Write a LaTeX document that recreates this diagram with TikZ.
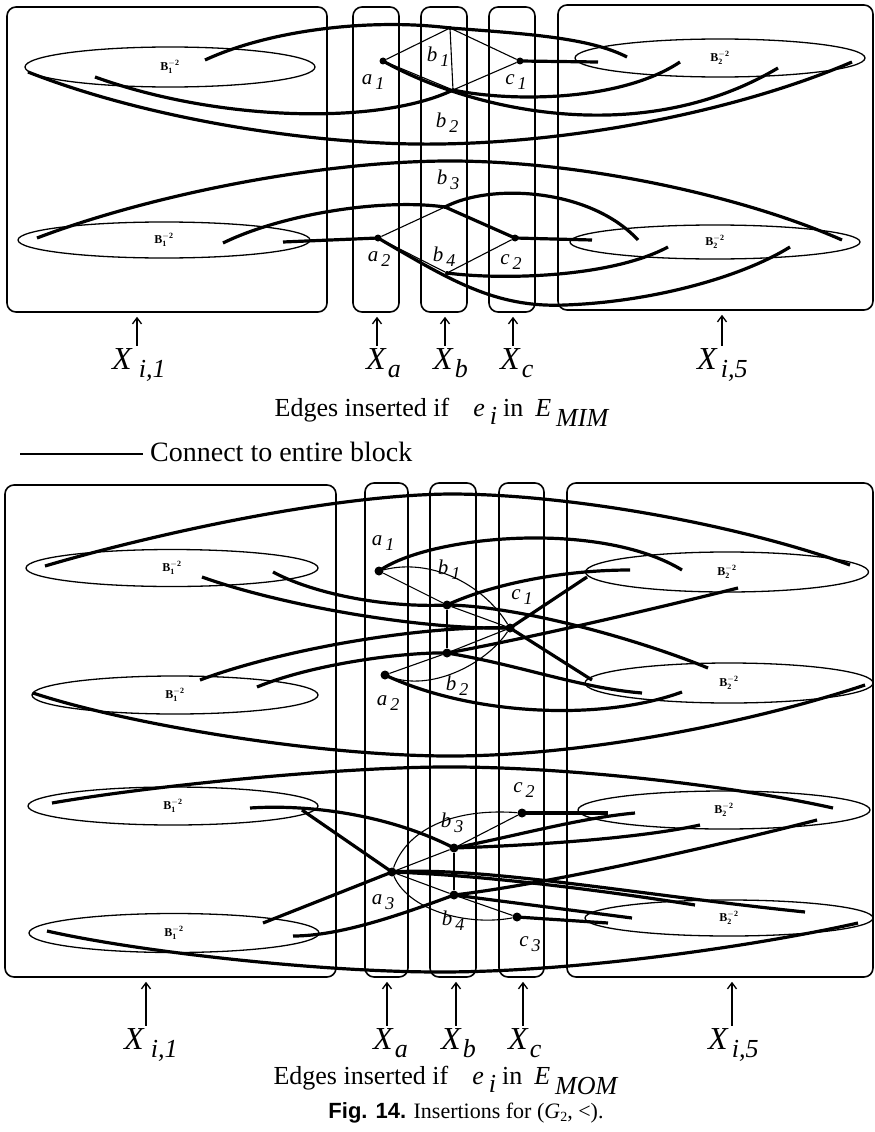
\documentclass[tikz,border=0pt]{standalone}
\usepackage{fontspec}
\setmainfont{Liberation Serif}
\newfontfamily\figfont{Liberation Sans}
\usetikzlibrary{arrows.meta,calc,shapes.geometric}

\newcommand{\nlab}[2]{\textit{#1}\hspace{3pt}\raisebox{-5pt}{\fontsize{18}{20}\selectfont\textit{#2}}}
\newcommand{\xlab}[2]{\textit{X}\hspace{#2}\raisebox{-8pt}{\fontsize{26}{28}\selectfont\textit{#1}}}
\newcommand{\blab}[1]{$\mathbf{B}_{\mathbf{#1}}^{\mathbf{-2}}$}

\tikzset{
  blockbox/.style={draw, rounded corners=9pt, line width=1.6pt, inner sep=0pt},
  blob/.style={draw, ellipse, line width=1.3pt, inner sep=0pt, font=\fontsize{12}{13}\selectfont},
  vtx/.style={circle, fill, inner sep=0pt, minimum size=7pt},
  jn/.style={circle, fill, inner sep=0pt, minimum size=4pt},
  conn/.style={line width=3.2pt},
  thinline/.style={line width=1.1pt},
  lbl/.style={font=\fontsize{21}{23}\selectfont, inner sep=1pt},
  xtxt/.style={font=\fontsize{32}{36}\selectfont, inner sep=0pt, anchor=base west},
  capt/.style={font=\fontsize{26}{30}\selectfont, inner sep=0pt},
  uparr/.style={-{Straight Barb[length=6pt,width=9pt]}, line width=1.3pt, shorten >=4pt, shorten <=2pt}
}

\begin{document}
\begin{tikzpicture}[x=1pt,y=-1pt]
\useasboundingbox (0,0) rectangle (875,1132);

% ===== upper figure (E_MIM) =====
% blocks
\node[blockbox, minimum width=320pt, minimum height=305pt] (L1)  at (167,159.5) {};
\node[blockbox, minimum width=46pt,  minimum height=305pt] (Xa1) at (376,159.5) {};
\node[blockbox, minimum width=46pt,  minimum height=305pt] (Xb1) at (444,159.5) {};
\node[blockbox, minimum width=46pt,  minimum height=305pt] (Xc1) at (512,159.5) {};
\node[blockbox, minimum width=315pt, minimum height=305pt] (R1)  at (715.5,157.5) {};

% B blocks
\node[blob, minimum width=290pt, minimum height=40pt] (tB1a) at (170,67) {\blab{1}};
\node[blob, minimum width=292pt, minimum height=36pt] (tB1b) at (164,240) {\blab{1}};
\node[blob, minimum width=290pt, minimum height=38pt] (tB2a) at (720,58) {\blab{2}};
\node[blob, minimum width=290pt, minimum height=34pt] (tB2b) at (715,242) {\blab{2}};

% vertices
\node[vtx] (ma1) at (383,61) {};
\node[jn]  (mb1) at (450,28) {};
\node[vtx] (mc1) at (520,61) {};
\node[jn]  (mb2) at (453,90) {};
\node[vtx] (ma2) at (378,238) {};
\node[jn]  (mb3) at (445,207) {};
\node[vtx] (mc2) at (515,238) {};
\node[jn]  (mb4) at (447,273) {};

% thin edges
\draw[thinline] (ma1) -- (mb1) -- (mc1) -- (mb2) -- (ma1);
\draw[thinline] (mb1) -- (mb2);
\draw[thinline] (ma2) -- (mb3) -- (mc2) -- (mb4) -- (ma2);

% edges to entire blocks
\draw[conn] ($(tB1a)+(35,-7)$) .. controls (270,30) and (370,18) .. (mb1.center) .. controls (530,34) and (590,38) .. ($(tB2a)+(-93,-1)$);
\draw[conn] ($(tB1a)+(-75,10)$) .. controls (220,122) and (380,125) .. (mb2.center);
\draw[conn] (mb2.center) .. controls (510,102) and (620,102) .. ($(tB2a)+(-40,4)$);
\draw[conn] (ma1.center) .. controls (470,110) and (640,150) .. ($(tB2a)+(58,10)$);
\draw[conn] ($(tB1a)+(-142,5)$) .. controls (150,120) and (320,146) .. (440,144) .. controls (580,142) and (740,110) .. ($(tB2a)+(132,4)$);
\draw[conn] (mc1.center) -- ($(tB2a)+(-122,4)$);
\draw[conn] ($(tB1b)+(-127,-2)$) .. controls (150,195) and (320,161) .. (450,161) .. controls (580,161) and (740,195) .. ($(tB2b)+(127,-2)$);
\draw[conn] ($(tB1b)+(59,3)$) .. controls (280,215) and (380,198) .. (mb3.center) -- (mc2.center);
\draw[conn] (mb3.center) .. controls (490,183) and (590,188) .. ($(tB2b)+(-77,-2)$);
\draw[conn] ($(tB1b)+(119,2)$) -- (ma2.center);
\draw[conn] (ma2.center) .. controls (450,280) and (495,308) .. (565,305) .. controls (650,302) and (740,278) .. ($(tB2b)+(75,5)$);
\draw[conn] (mb4.center) .. controls (500,280) and (610,278) .. ($(tB2b)+(-47,5)$);
\draw[conn] (mc2.center) -- ($(tB2b)+(-123,-2)$);

% vertex labels
\node[lbl] (la1) at (373,82)  {\nlab{a}{1}};
\node[lbl] (lb1) at (438,57)  {\nlab{b}{1}};
\node[lbl] (lc1) at (516,82)  {\nlab{c}{1}};
\node[lbl] (lb2) at (447,123) {\nlab{b}{2}};
\node[lbl] (lb3) at (448,180) {\nlab{b}{3}};
\node[lbl] (la2) at (379,259) {\nlab{a}{2}};
\node[lbl] (lb4) at (444,257) {\nlab{b}{4}};
\node[lbl] (lc2) at (511,262) {\nlab{c}{2}};

% block names
\node[xtxt] (xt1) at (112,369) {\xlab{i,1}{6pt}};
\node[xtxt] (xt2) at (366,369) {\xlab{a}{1pt}};
\node[xtxt] (xt3) at (433,369) {\xlab{b}{1pt}};
\node[xtxt] (xt4) at (500,369) {\xlab{c}{1pt}};
\node[xtxt] (xt5) at (697,369) {\xlab{i,5}{3pt}};
\draw[uparr] ([xshift=25pt]xt1.north west) -- ([xshift=25pt]xt1.north west |- L1.south);
\draw[uparr] ([xshift=11pt]xt2.north west) -- ([xshift=11pt]xt2.north west |- Xa1.south);
\draw[uparr] ([xshift=12pt]xt3.north west) -- ([xshift=12pt]xt3.north west |- Xb1.south);
\draw[uparr] ([xshift=13pt]xt4.north west) -- ([xshift=13pt]xt4.north west |- Xc1.south);
\draw[uparr] ([xshift=25pt]xt5.north west) -- ([xshift=25pt]xt5.north west |- R1.south);

\node[capt] (em1) at (442,412) {Edges inserted if\hspace{24pt}\textit{e}\hspace{5pt}\raisebox{-8pt}{\textit{i}}\hspace{6pt}in\hspace{12pt}\textit{E}\hspace{5pt}\raisebox{-10pt}{\textit{MIM}}};

% legend
\node[capt, anchor=west, font=\fontsize{28}{32}\selectfont] (ctb) at (150,452) {Connect to entire block};
\draw[line width=2.6pt] ([xshift=-130pt,yshift=-2pt]ctb.west) -- ([xshift=-7pt,yshift=-2pt]ctb.west);

% ===== lower figure (E_MOM) =====
% blocks
\node[blockbox, minimum width=331pt, minimum height=492pt] (L2)  at (170.5,731) {};
\node[blockbox, minimum width=43pt,  minimum height=494pt] (Xa2) at (386.5,730) {};
\node[blockbox, minimum width=46pt,  minimum height=494pt] (Xb2) at (453,730) {};
\node[blockbox, minimum width=45pt,  minimum height=494pt] (Xc2) at (521.5,730) {};
\node[blockbox, minimum width=306pt, minimum height=494pt] (R2)  at (720,730) {};

% B blocks
\node[blob, minimum width=292pt, minimum height=37pt] (bB1a) at (172,568) {\blab{1}};
\node[blob, minimum width=286pt, minimum height=38pt] (bB1b) at (175,695) {\blab{1}};
\node[blob, minimum width=290pt, minimum height=38pt] (bB1c) at (173,806) {\blab{1}};
\node[blob, minimum width=290pt, minimum height=39pt] (bB1d) at (174,933) {\blab{1}};
\node[blob, minimum width=283pt, minimum height=40pt] (bB2a) at (727,572) {\blab{2}};
\node[blob, minimum width=288pt, minimum height=40pt] (bB2b) at (729,683) {\blab{2}};
\node[blob, minimum width=292pt, minimum height=38pt] (bB2c) at (724,810) {\blab{2}};
\node[blob, minimum width=288pt, minimum height=36pt] (bB2d) at (729,918) {\blab{2}};

% vertices
\node[vtx, minimum size=9pt] (oa1) at (379,571) {};
\node[vtx, minimum size=9pt] (ob1) at (447,605) {};
\node[vtx, minimum size=9pt] (ob2) at (447,653) {};
\node[vtx, minimum size=9pt] (oc1) at (510,628) {};
\node[vtx, minimum size=9pt] (oa2) at (385,675) {};
\node[vtx, minimum size=9pt] (oa3) at (392,872) {};
\node[vtx, minimum size=9pt] (ob3) at (454,848) {};
\node[vtx, minimum size=9pt] (ob4) at (454,895) {};
\node[vtx, minimum size=9pt] (oc2) at (522,813) {};
\node[vtx, minimum size=9pt] (oc3) at (517,917) {};

% thin edges
\draw[thinline] (oa1) -- (ob1) -- (oc1) -- (ob2) -- (oa2);
\draw[thinline] (ob1) -- (ob2);
\draw[thinline] (oa1) .. controls (430,558) and (482,583) .. (oc1);
\draw[thinline] (oa2) .. controls (430,692) and (485,665) .. (oc1);
\draw[thinline] (oa3) -- (ob3) -- (oc2);
\draw[thinline] (oa3) -- (ob4) -- (oc3);
\draw[thinline] (ob3) -- (ob4);
\draw[thinline] (oa3) .. controls (408,828) and (455,808) .. (oc2);
\draw[thinline] (oa3) .. controls (410,912) and (470,926) .. (oc3);

% edges to entire blocks, upper pair
\draw[conn] ($(bB1a)+(-127,-2)$) .. controls (150,535) and (330,495) .. (450,494) .. controls (570,494) and (740,525) .. ($(bB2a)+(123,-7)$);
\draw[conn] (oa1.center) .. controls (430,535) and (600,520) .. ($(bB2a)+(-45,-2)$);
\draw[conn] ($(bB1a)+(101,4)$) .. controls (310,592) and (380,608) .. (ob1.center);
\draw[conn] (ob1.center) .. controls (520,606) and (640,640) .. ($(bB2b)+(-21,-15)$);
\draw[conn] ($(bB1a)+(30,9)$) .. controls (280,605) and (420,630) .. (oc1.center);
\draw[conn] ($(bB1b)+(25,-15)$) .. controls (280,650) and (420,625) .. (oc1.center);
\draw[conn] ($(bB1b)+(82,-8)$) .. controls (310,665) and (400,652) .. (ob2.center);
\draw[conn] (ob1.center) .. controls (490,585) and (560,570) .. ($(bB2a)+(-97,-2)$);
\draw[conn] (oc1.center) -- ($(bB2a)+(-140,5)$);
\draw[conn] (oc1.center) -- ($(bB2b)+(-137,-3)$);
\draw[conn] (ob2.center) .. controls (520,640) and (650,610) .. ($(bB2a)+(11,16)$);
\draw[conn] (ob2.center) .. controls (520,665) and (580,688) .. ($(bB2b)+(-87,10)$);
\draw[conn] (oa2.center) .. controls (470,715) and (600,722) .. ($(bB2b)+(-47,9)$);
\draw[conn] ($(bB1b)+(-142,-2)$) .. controls (130,725) and (320,756) .. (450,756) .. controls (590,756) and (760,720) .. ($(bB2b)+(136,2)$);

% edges to entire blocks, lower pair
\draw[conn] ($(bB1c)+(-121,-3)$) .. controls (150,786) and (330,768) .. (440,767) .. controls (560,766) and (730,785) .. ($(bB2c)+(109,-2)$);
\draw[conn] ($(bB1d)+(-127,-2)$) .. controls (140,952) and (320,972) .. (440,972) .. controls (580,972) and (760,945) .. ($(bB2d)+(129,5)$);
\draw[conn] ($(bB1c)+(77,2)$) .. controls (310,804) and (390,815) .. (ob3.center);
\draw[conn] ($(bB1c)+(129,4)$) -- (oa3.center);
\draw[conn] ($(bB1d)+(89,-10)$) -- (oa3.center);
\draw[conn] ($(bB1d)+(119,3)$) .. controls (340,936) and (400,915) .. (ob4.center);
\draw[conn] (ob3.center) .. controls (520,835) and (580,818) .. ($(bB2c)+(-89,3)$);
\draw[conn] (ob3.center) .. controls (540,845) and (640,838) .. ($(bB2c)+(-24,15)$);
\draw[conn] (oa3.center) .. controls (480,875) and (600,890) .. ($(bB2d)+(-34,-13)$);
\draw[conn] (ob4.center) -- ($(bB2d)+(-97,0)$);
\draw[conn] (ob4.center) .. controls (540,885) and (700,850) .. ($(bB2c)+(93,10)$);
\draw[conn] (oc2.center) -- ($(bB2c)+(-116,3)$);
\draw[conn] (oc3.center) -- ($(bB2d)+(-121,5)$);
\draw[conn] (oa3.center) .. controls (480,866) and (640,895) .. ($(bB2d)+(76,-6)$);

% vertex labels
\node[lbl] (ka1) at (383,543) {\nlab{a}{1}};
\node[lbl] (kb1) at (449,570) {\nlab{b}{1}};
\node[lbl] (kc1) at (522,597) {\nlab{c}{1}};
\node[lbl] (kb2) at (457,686) {\nlab{b}{2}};
\node[lbl] (ka2) at (388,703) {\nlab{a}{2}};
\node[lbl] (kc2) at (524,790) {\nlab{c}{2}};
\node[lbl] (kb3) at (452,823) {\nlab{b}{3}};
\node[lbl] (ka3) at (383,902) {\nlab{a}{3}};
\node[lbl] (kb4) at (453,921) {\nlab{b}{4}};
\node[lbl] (kc3) at (530,944) {\nlab{c}{3}};

% block names
\node[xtxt] (yt1) at (124,1049) {\xlab{i,1}{6pt}};
\node[xtxt] (yt2) at (373,1049) {\xlab{a}{1pt}};
\node[xtxt] (yt3) at (441,1049) {\xlab{b}{1pt}};
\node[xtxt] (yt4) at (508,1049) {\xlab{c}{1pt}};
\node[xtxt] (yt5) at (708,1049) {\xlab{i,5}{3pt}};
\draw[uparr] ([xshift=22pt]yt1.north west) -- ([xshift=22pt]yt1.north west |- L2.south);
\draw[uparr] ([xshift=14pt]yt2.north west) -- ([xshift=14pt]yt2.north west |- Xa2.south);
\draw[uparr] ([xshift=15pt]yt3.north west) -- ([xshift=15pt]yt3.north west |- Xb2.south);
\draw[uparr] ([xshift=15pt]yt4.north west) -- ([xshift=15pt]yt4.north west |- Xc2.south);
\draw[uparr] ([xshift=24pt]yt5.north west) -- ([xshift=24pt]yt5.north west |- R2.south);

\node[capt] (em2) at (446,1080) {Edges inserted if\hspace{24pt}\textit{e}\hspace{5pt}\raisebox{-8pt}{\textit{i}}\hspace{6pt}in\hspace{12pt}\textit{E}\hspace{5pt}\raisebox{-10pt}{\textit{MOM}}};
\node[font=\fontsize{22}{25}\selectfont, inner sep=0pt] (fig) at (466,1113) {{\figfont\bfseries Fig. 14.} Insertions for (\textit{G}\raisebox{-3pt}{\fontsize{14}{15}\selectfont 2}, <).};
\end{tikzpicture}
\end{document}
